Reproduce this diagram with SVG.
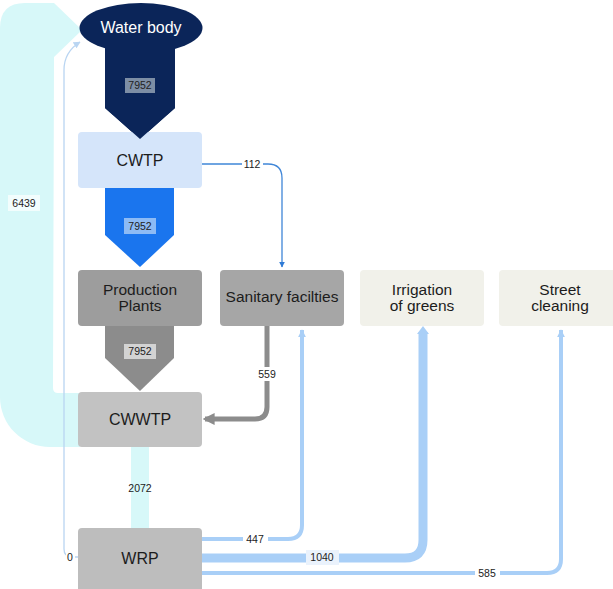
<svg xmlns="http://www.w3.org/2000/svg" width="613" height="589" viewBox="0 0 613 589">
<style>
  .lbl{font-family:"Liberation Sans",Arial,sans-serif;font-size:15.5px;fill:#1c1c1c;text-anchor:middle}
  .num{font-family:"Liberation Sans",Arial,sans-serif;font-size:10.5px;fill:#222;text-anchor:middle}
  .thin{fill:none;stroke-linecap:butt;stroke-linejoin:round}
</style>
<defs>
  <marker id="ahBlue" viewBox="0 0 10 10" refX="9" refY="5" markerWidth="6" markerHeight="6" orient="auto" markerUnits="userSpaceOnUse">
    <path d="M0,0 L10,5 L0,10 Z" fill="#2f7bd6"/>
  </marker>
  <marker id="ahLight" viewBox="0 0 10 10" refX="9" refY="5" markerWidth="8" markerHeight="8" orient="auto" markerUnits="userSpaceOnUse">
    <path d="M0,0 L10,5 L0,10 Z" fill="#a9cff7"/>
  </marker>
  <marker id="ahPale" viewBox="0 0 10 10" refX="9" refY="5" markerWidth="7" markerHeight="7" orient="auto" markerUnits="userSpaceOnUse">
    <path d="M0,0 L10,5 L0,10 Z" fill="#b9d5f2"/>
  </marker>
  <marker id="ahGray" viewBox="0 0 10 10" refX="8" refY="5" markerWidth="12" markerHeight="12" orient="auto" markerUnits="userSpaceOnUse">
    <path d="M0,0 L10,5 L0,10 Z" fill="#8c8c8c"/>
  </marker>
</defs>

<g id="connectors">
  <!-- 6439 wide cyan band CWWTP -> Water body -->
  <path d="M80,447 L50,447 A50,50 0 0 1 0,397 L0,28 Q0,3 25,3 L54,3 L82,30 L54,57 L53,388 Q53,393 58,393 L80,393 Z" fill="#d7f8f9"/>
  <rect x="8" y="195" width="32" height="16" fill="#f2fdfd"/>
  <text class="num" x="24" y="207">6439</text>

  <!-- 0 thin line WRP -> Water body -->
  <path class="thin" d="M78,557 L72,557 Q64,557 64,549 L64,70 Q64,52 80,42" stroke="#b9d5f2" stroke-width="1.3" marker-end="url(#ahPale)"/>
  <rect x="66" y="550" width="9" height="13" fill="#ffffff"/>
  <text class="num" x="70" y="561">0</text>

  <!-- 2072 cyan band CWWTP -> WRP -->
  <rect x="131" y="447" width="18" height="81" fill="#d7f8f9"/>
  <text class="num" x="140" y="492">2072</text>

  <!-- 112 CWTP -> Sanitary -->
  <path class="thin" d="M202,164 L268,164 Q282,164 282,178 L282,267" stroke="#3f86d8" stroke-width="1.3" marker-end="url(#ahBlue)"/>
  <rect x="242" y="157" width="21" height="13" fill="#ffffff"/>
  <text class="num" x="252" y="168">112</text>

  <!-- 559 Sanitary -> CWWTP -->
  <path class="thin" d="M267,326 L267,407 Q267,419 255,419 L205,419" stroke="#8c8c8c" stroke-width="5" marker-end="url(#ahGray)"/>
  <rect x="257" y="367" width="20" height="14" fill="#ffffff"/>
  <text class="num" x="267" y="378">559</text>

  <!-- 447 WRP -> Sanitary -->
  <path class="thin" d="M202,539 L288,539 Q302,539 302,525 L302,330" stroke="#a9cff7" stroke-width="4" marker-end="url(#ahLight)"/>
  <rect x="243" y="532" width="25" height="14" fill="#ffffff"/>
  <text class="num" x="255" y="543">447</text>

  <!-- 1040 WRP -> Irrigation -->
  <path class="thin" d="M202,558 L405,558 Q423,558 423,540 L423,332" stroke="#a9cff7" stroke-width="9"/>
  <path d="M417,334 L423,326 L429,334 Z" fill="#a9cff7"/>
  <rect x="306" y="550" width="33" height="15" fill="#eaf2fc"/>
  <text class="num" x="322" y="561">1040</text>

  <!-- 585 WRP -> Street cleaning -->
  <path class="thin" d="M202,573 L547,573 Q561,573 561,559 L561,330" stroke="#a9cff7" stroke-width="4" marker-end="url(#ahLight)"/>
  <rect x="475" y="566" width="25" height="14" fill="#ffffff"/>
  <text class="num" x="487" y="577">585</text>
</g>

<g id="water-body">
  <ellipse cx="141" cy="28" rx="61.5" ry="25" fill="#0b2559"/>
  <path d="M105,44 L175,44 L175,108 L140,139 L105,108 Z" fill="#0b2559"/>
  <text x="141" y="33" class="lbl" style="fill:#ffffff;font-size:16px">Water body</text>
</g>

<g id="cwtp">
  <rect x="78" y="132" width="124" height="56" rx="4" fill="#d5e5fa"/>
  <text x="140" y="166" class="lbl" style="font-size:16px">CWTP</text>
</g>

<g id="flow-water-cwtp">
  <path d="M105,108 L140,139 L175,108" fill="#0b2559"/>
  <rect x="125" y="78" width="30" height="15" fill="#7d8ea5"/>
  <text class="num" x="140" y="89">7952</text>
</g>

<g id="flow-cwtp-production">
  <path d="M105,188 L174,188 L174,235 L140,267 L105,235 Z" fill="#1a75ee"/>
  <rect x="124" y="218" width="32" height="16" fill="#8dbbf5"/>
  <text class="num" x="140" y="230">7952</text>
</g>

<g id="production-plants">
  <rect x="78" y="270" width="124" height="56" rx="4" fill="#9d9d9d"/>
  <text x="140" y="295" class="lbl">Production</text>
  <text x="140" y="311" class="lbl">Plants</text>
</g>

<g id="flow-production-cwwtp">
  <path d="M105,326 L174,326 L174,358 L140,391 L105,358 Z" fill="#8c8c8c"/>
  <rect x="124" y="344" width="32" height="15" fill="#d3d3d3"/>
  <text class="num" x="140" y="355">7952</text>
</g>

<g id="sanitary-facilities">
  <rect x="220" y="270" width="124" height="56" rx="4" fill="#a6a6a6"/>
  <text x="282" y="302" class="lbl">Sanitary facilties</text>
</g>

<g id="irrigation">
  <rect x="360" y="270" width="124" height="56" rx="4" fill="#f1f1ea"/>
  <text x="422" y="295" class="lbl">Irrigation</text>
  <text x="422" y="311" class="lbl">of greens</text>
</g>

<g id="street-cleaning">
  <rect x="499" y="270" width="124" height="56" rx="4" fill="#f1f1ea"/>
  <text x="560" y="295" class="lbl">Street</text>
  <text x="560" y="311" class="lbl">cleaning</text>
</g>

<g id="cwwtp">
  <rect x="78" y="392" width="124" height="55" rx="4" fill="#c2c2c2"/>
  <text x="140" y="425" class="lbl" style="font-size:16px">CWWTP</text>
</g>

<g id="wrp">
  <rect x="78" y="528" width="124" height="66" rx="4" fill="#bdbdbd"/>
  <text x="140" y="564" class="lbl" style="font-size:16px">WRP</text>
</g>
</svg>
